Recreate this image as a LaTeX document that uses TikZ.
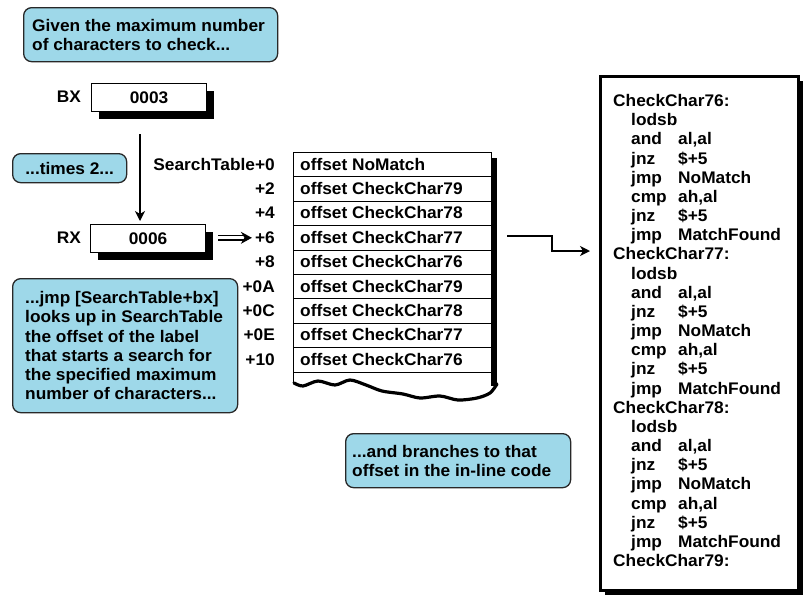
\documentclass[tikz,border=0pt]{standalone}
\usepackage{fontspec}
\setmainfont{Liberation Sans}[FakeStretch=1.03]
\usetikzlibrary{arrows.meta,shadows,calc}
\definecolor{callblue}{RGB}{158,216,233}
\definecolor{calledge}{RGB}{40,40,40}
\begin{document}
\begin{tikzpicture}[x=1pt,y=-1pt,
  txt/.style={font=\bfseries\fontsize{16.8}{19.2}\selectfont, inner sep=0pt},
  callout/.style={draw=calledge, line width=1.3pt, fill=callblue, rounded corners=8pt, anchor=north west, inner sep=0pt},
  regbox/.style={draw, line width=1.2pt, fill=white, anchor=north west, minimum width=115pt, minimum height=28pt, inner sep=0pt,
    font=\bfseries\fontsize{16.8}{19.2}\selectfont,
    drop shadow={shadow xshift=7pt, shadow yshift=-7pt, fill=black, opacity=1}},
  rowbox/.style={draw, line width=1pt, fill=white, anchor=north west, minimum width=198pt, minimum height=24.4pt, inner sep=0pt},
  arr/.style={line width=1.5pt, -{Stealth[length=10pt,width=10pt,inset=3pt]}},
]
\useasboundingbox (0,0) rectangle (803,595);

% top callout
\node[callout, minimum width=254pt, minimum height=54pt] (c1) at (23,7) {};
\node[txt, anchor=west, align=left] (c1t) at ($(c1.west)+(9,0)$) {Given the maximum number\\of characters to check...};

% BX register
\node[txt, anchor=east] (bxl) at (81,97) {BX};
\node[regbox] (bx) at (91,83) {0003};

% times 2 callout
\node[callout, minimum width=114pt, minimum height=29pt] (c2) at (12,153) {};
\node[txt] (c2t) at (c2.center) {...times 2...};

% RX register
\node[txt, anchor=east] (rxl) at (81,238) {RX};
\node[regbox] (rx) at (90,224) {0006};

\coordinate (va) at (140,134);
\draw[arr, shorten >=3pt] (va) -- (va |- rx.north);

% jmp callout
\node[callout, minimum width=225pt, minimum height=134pt] (c3) at (12,278) {};
\node[txt, anchor=west, align=left] (c3t) at ($(c3.west)+(13,0)$) {...jmp [SearchTable+bx]\\looks up in SearchTable\\the offset of the label\\that starts a search for\\the specified maximum\\number of characters...};

% table
\fill (491,158) rectangle (497,386);
\draw[line width=1pt] (293,371.6) -- (293,384);
\foreach \t [count=\i from 0] in {NoMatch, CheckChar79, CheckChar78, CheckChar77, CheckChar76, CheckChar79, CheckChar78, CheckChar77, CheckChar76} {
  \node[rowbox] (r\i) at (293, {152+\i*24.4}) {};
  \node[txt, anchor=base west] (rt\i) at (300, {170+\i*24.4}) {offset \t};
}
\foreach \t [count=\i from 0] in {SearchTable+0, +2, +4, +6, +8, +0A, +0C, +0E, +10} {
  \node[txt, anchor=base east] (o\i) at (275, {170+\i*24.4}) {\t};
}
\draw[line width=3.2pt, line join=round, line cap=round] plot[smooth] coordinates {(294,383) (303,386) (318,381) (335,385) (350,380) (366,385) (382,391) (403,394) (420,398) (440,396) (458,400) (477,398) (490,393) (497,384)};

% double arrow from RX to +6
\coordinate (ds) at (218,237.8);
\draw[line width=1.4pt, double distance=2.8pt, -{Stealth[length=11pt,width=12pt]}, shorten >=3pt] (ds) -- (ds -| o3.west);

% branches callout
\node[callout, minimum width=225pt, minimum height=54pt] (c4) at (345,433) {};
\node[txt, anchor=west, align=left] (c4t) at ($(c4.west)+(7,0)$) {...and branches to that\\offset in the in-line code};

% code box
\node[draw, line width=2.5pt, fill=white, anchor=north west, minimum width=198pt, minimum height=514pt, inner sep=0pt,
  drop shadow={shadow xshift=5pt, shadow yshift=-5pt, fill=black, opacity=1}] (cbx) at (599,75) {};

\foreach \lab [count=\k from 0] in {76,77,78} {
  \node[txt, anchor=base west] (lab\lab) at (613, {106.5+8*\k*19.17}) {CheckChar\lab:};
  \node[txt, anchor=base west] (m\k-1) at (631, {106.5+(8*\k+1)*19.17}) {lodsb};
  \foreach \m/\o [count=\j from 2] in {and/{al,al}, jnz/{\$+5}, jmp/NoMatch, cmp/{ah,al}, jnz/{\$+5}, jmp/MatchFound} {
    \node[txt, anchor=base west] (m\k-\j) at (631, {106.5+(8*\k+\j)*19.17}) {\m};
    \node[txt, anchor=base west] (p\k-\j) at (678, {106.5+(8*\k+\j)*19.17}) {\o};
  }
}
\node[txt, anchor=base west] (lab79) at (613, {106.5+24*19.17}) {CheckChar79:};

% elbow arrow
\coordinate (eb) at (507,236);
\draw[arr, shorten >=9pt] (eb) -- ++(45,0) |- (cbx.west |- 0,251);
\end{tikzpicture}
\end{document}
